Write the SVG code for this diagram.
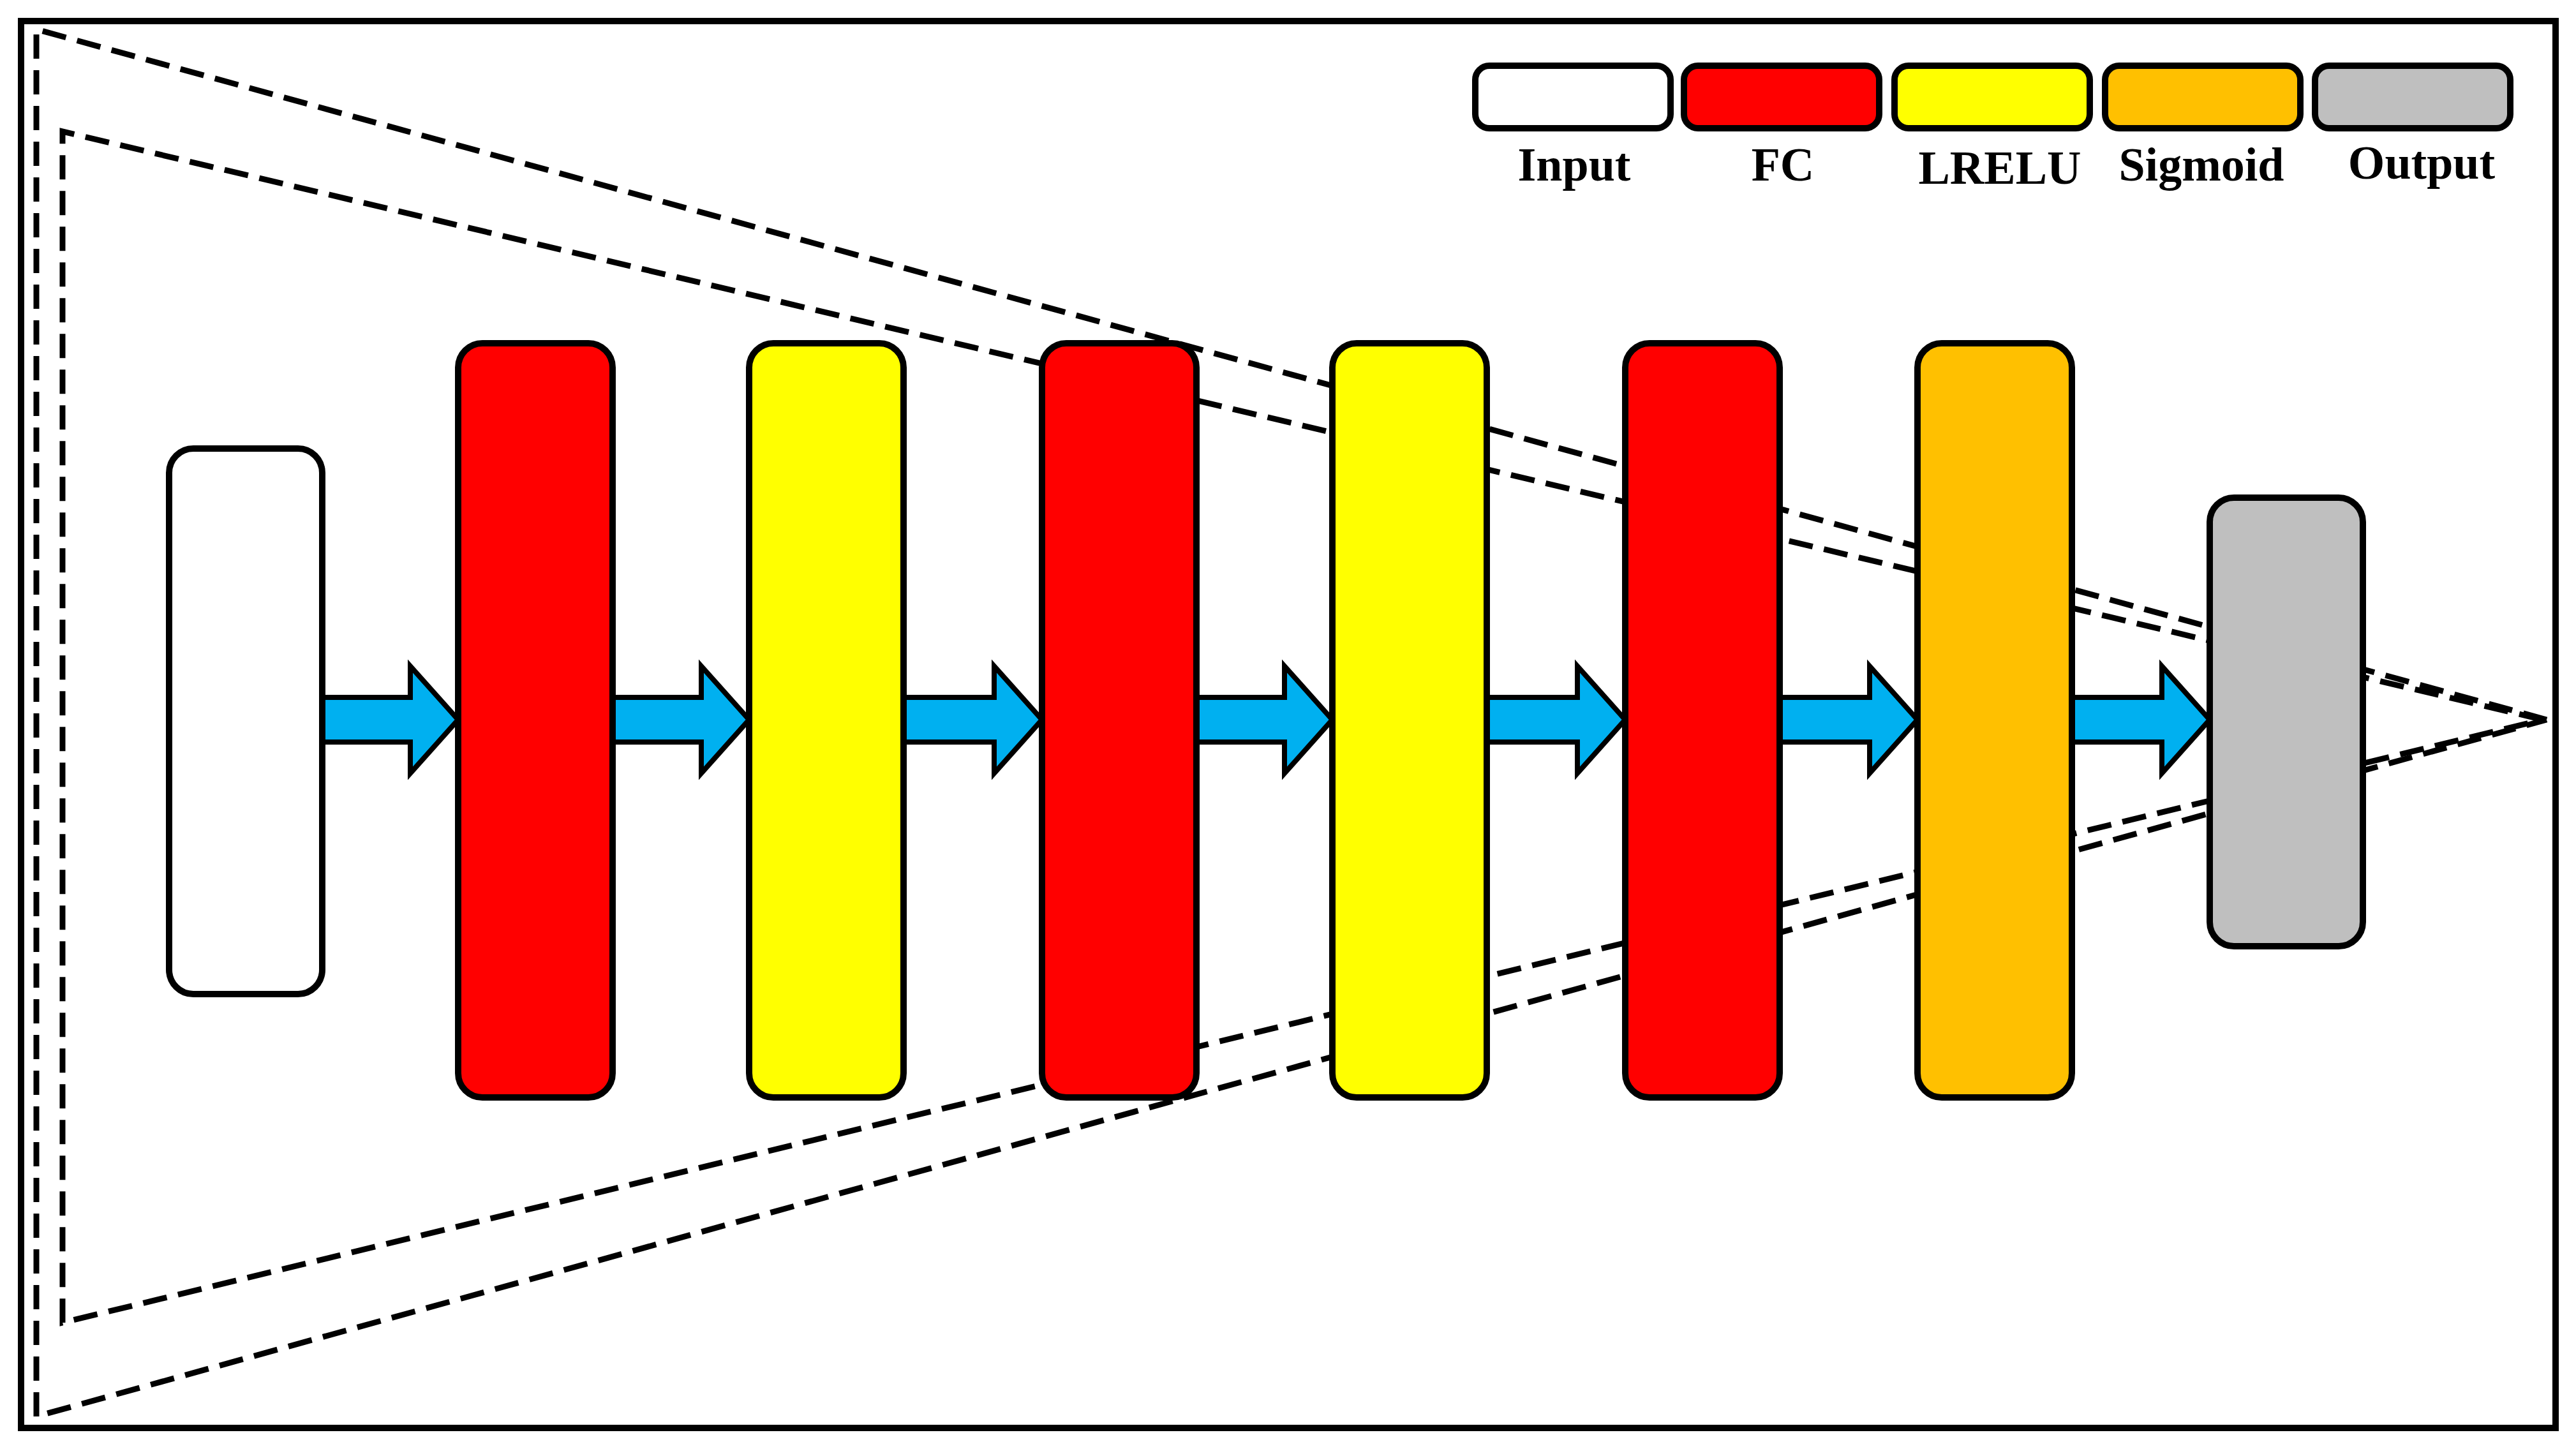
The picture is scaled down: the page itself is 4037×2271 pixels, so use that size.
<svg xmlns="http://www.w3.org/2000/svg" width="4037" height="2271" viewBox="0 0 4037 2271">
<defs>
<style>
.dash{fill:none;stroke:#000;stroke-width:9;stroke-dasharray:38 18}
.node{stroke:#000;stroke-width:10}
.leg{stroke:#000;stroke-width:10}
.arr{fill:#00B0F0;stroke:#000;stroke-width:8;stroke-linejoin:miter}
.lbl{font-family:"Liberation Serif",serif;font-weight:bold;font-size:74px;text-anchor:middle;fill:#000}
</style>
</defs>
<rect x="0" y="0" width="4037" height="2271" fill="#fff"/>
<rect x="33" y="33" width="3972" height="2205" fill="none" stroke="#000" stroke-width="10"/>
<g id="connectors">
<polyline class="dash" points="3991,1128 57,46 57,2220 3991,1128"/>
<polyline class="dash" points="3985,1128 98,206 98,2073 3985,1128"/>
<path class="arr" d="M505,1093 H643 V1044 L718,1128 L643,1212 V1163 H505 Z"/>
<path class="arr" d="M960,1093 H1099 V1044 L1174,1128 L1099,1212 V1163 H960 Z"/>
<path class="arr" d="M1416,1093 H1558 V1044 L1633,1128 L1558,1212 V1163 H1416 Z"/>
<path class="arr" d="M1875,1093 H2013 V1044 L2088,1128 L2013,1212 V1163 H1875 Z"/>
<path class="arr" d="M2330,1093 H2472 V1044 L2547,1128 L2472,1212 V1163 H2330 Z"/>
<path class="arr" d="M2789,1093 H2930 V1044 L3005,1128 L2930,1212 V1163 H2789 Z"/>
<path class="arr" d="M3247,1093 H3388 V1044 L3463,1128 L3388,1212 V1163 H3247 Z"/>
</g>
<g id="input"><rect class="node" x="265" y="703" width="240" height="855" rx="38" fill="#fff"/></g>
<g id="fc1"><rect class="node" x="718" y="538" width="242" height="1182" rx="38" fill="#FF0000"/></g>
<g id="lrelu1"><rect class="node" x="1174" y="538" width="242" height="1182" rx="38" fill="#FFFF00"/></g>
<g id="fc2"><rect class="node" x="1633" y="538" width="242" height="1182" rx="38" fill="#FF0000"/></g>
<g id="lrelu2"><rect class="node" x="2088" y="538" width="242" height="1182" rx="38" fill="#FFFF00"/></g>
<g id="fc3"><rect class="node" x="2547" y="538" width="242" height="1182" rx="38" fill="#FF0000"/></g>
<g id="sigmoid"><rect class="node" x="3005" y="538" width="242" height="1182" rx="38" fill="#FFC000"/></g>
<g id="output"><rect class="node" x="3463" y="780" width="240" height="703" rx="38" fill="#BFBFBF"/></g>
<g id="legend">
<rect class="leg" x="2312" y="103" width="306" height="98" rx="22" fill="#fff"/>
<rect class="leg" x="2639" y="103" width="306" height="98" rx="22" fill="#FF0000"/>
<rect class="leg" x="2969" y="103" width="306" height="98" rx="22" fill="#FFFF00"/>
<rect class="leg" x="3299" y="103" width="306" height="98" rx="22" fill="#FFC000"/>
<rect class="leg" x="3628" y="103" width="306" height="98" rx="22" fill="#BFBFBF"/>
<text class="lbl" x="2467" y="283">Input</text>
<text class="lbl" x="2794" y="283">FC</text>
<text class="lbl" x="3134" y="288">LRELU</text>
<text class="lbl" x="3450" y="283">Sigmoid</text>
<text class="lbl" x="3795" y="280">Output</text>
</g>
</svg>
